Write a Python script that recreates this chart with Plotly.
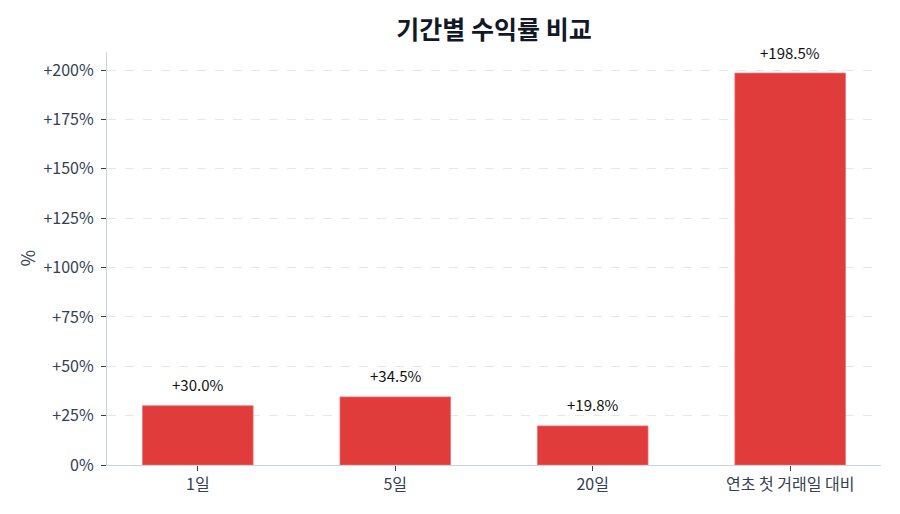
import plotly.graph_objects as go

categories = ["1일", "5일", "20일", "연초 첫 거래일 대비"]
returns = [30.0, 34.5, 19.8, 198.5]
labels = ["+30.0%", "+34.5%", "+19.8%", "+198.5%"]
tick_vals = [0, 25, 50, 75, 100, 125, 150, 175, 200]
tick_text = ["0%", "+25%", "+50%", "+75%", "+100%", "+125%", "+150%", "+175%", "+200%"]

FONT = "Noto Sans CJK KR"

fig = go.Figure()
fig.add_trace(go.Bar(
    x=list(range(len(categories))),
    y=returns,
    width=0.56,
    marker=dict(color="#e03c3c", line=dict(color="#f07070", width=0.8)),
    hoverinfo="skip",
))

for i, (v, t) in enumerate(zip(returns, labels)):
    fig.add_annotation(x=i, y=v, text=t, showarrow=False, yshift=21,
                       font=dict(family=FONT, size=15, color="#111111"))

# y-axis title as an annotation for precise placement
fig.add_annotation(xref="paper", yref="paper", x=0, y=0.5, text="%",
                   textangle=-90, showarrow=False, xanchor="center", yanchor="middle",
                   xshift=-81, font=dict(family=FONT, size=18, color="#334155"))

fig.update_layout(
    width=892, height=506,
    margin=dict(l=99, r=19, t=44, b=49),
    paper_bgcolor="white", plot_bgcolor="white",
    showlegend=False,
    title=dict(text="<b>기간별 수익률 비교</b>", x=0.5, xref="paper", xanchor="center",
               y=1 - 22 / 506, yanchor="middle",
               font=dict(family=FONT, size=25, color="#111827")),
    font=dict(family=FONT, size=16, color="#334155"),
)
fig.update_xaxes(
    tickmode="array", tickvals=list(range(len(categories))), ticktext=categories,
    range=[-0.46, 3.46],
    showline=True, linecolor="#cbd5e1", linewidth=1.2,
    ticks="outside", ticklen=5, tickcolor="#334155",
    showgrid=False, zeroline=False,
    tickfont=dict(family=FONT, size=16, color="#334155"),
)
fig.update_yaxes(
    range=[0, 209.2],
    tickmode="array", tickvals=tick_vals, ticktext=tick_text,
    showline=True, linecolor="#cbd5e1", linewidth=1.2,
    ticks="outside", ticklen=5, tickcolor="#334155",
    ticklabelstandoff=4,
    showgrid=True, gridcolor="#e5e7eb", griddash="dash", gridwidth=1,
    zeroline=False,
    tickfont=dict(family=FONT, size=16, color="#334155"),
)

fig.write_html("out.html")
